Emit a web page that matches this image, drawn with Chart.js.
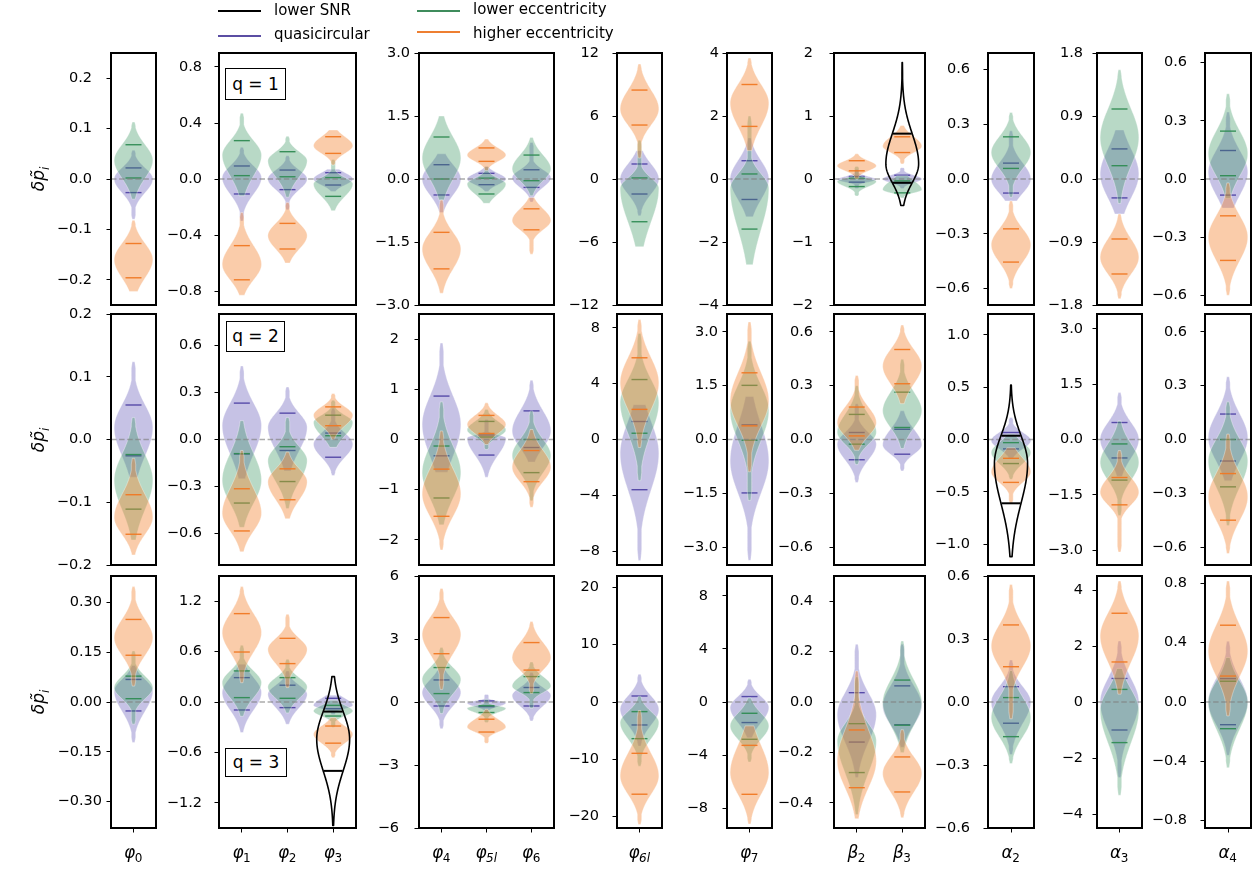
<!DOCTYPE html>
<html><head><meta charset="utf-8">
<script src="https://cdn.jsdelivr.net/npm/chart.js@4.4.1/dist/chart.umd.min.js"></script>
<style>
body{margin:0;background:#fff;width:1258px;height:871px;overflow:hidden;position:relative;font-family:"DejaVu Sans",sans-serif;color:#000;}
.cv{position:absolute;}
.leg{position:absolute;font-size:15px;line-height:18px;white-space:nowrap;}
.legline{position:absolute;height:2.5px;}
.qbox{position:absolute;border:1px solid #000;background:#fff;font-size:17px;text-align:center;box-sizing:border-box;}
.ylab{position:absolute;font-size:17px;font-style:italic;transform:translate(-50%,-50%) rotate(-90deg);white-space:nowrap;}
</style></head><body>
<script>
// ---------------- DATA ----------------
const panelLabels = [['φ₀'], ['φ₁','φ₂','φ₃'], ['φ₄','φ₅ₗ','φ₆'], ['φ₆ₗ'], ['φ₇'], ['β₂','β₃'], ['α₂'], ['α₃'], ['α₄']];
const seriesNames = ['lower SNR', 'quasicircular', 'lower eccentricity', 'higher eccentricity'];
const rowTitles = ['q = 1', 'q = 2', 'q = 3'];

// each violin: [lower tail end, lower quantile, peak, upper quantile, upper tail end]
// category order: φ0, φ1, φ2, φ3, φ4, φ5l, φ6, φ6l, φ7, β2, β3, α2, α3, α4
const quasi_q1 = [
 [-0.08,-0.027,0.0,0.022,0.057],[-0.3,-0.107,0.01,0.093,0.226],[-0.22,-0.076,0.0,0.064,0.166],[-0.09,-0.043,0.0,0.045,0.07],
 [-0.8,-0.38,0.0,0.34,0.6],[-0.3,-0.135,0.0,0.135,0.3],[-0.55,-0.2,0.03,0.22,0.87],
 [-3.5,-1.43,0.0,1.43,2.7],[-1.2,-0.65,0.0,0.58,1.3],[-0.15,-0.05,-0.01,0.04,0.15],[-0.15,-0.06,0.0,0.06,0.18],
 [-0.12,-0.077,0.0,0.087,0.264],[-0.5,-0.27,0.07,0.43,0.7],[-0.15,-0.083,0.035,0.147,0.345]];
const lowEcc_q1 = [
 [-0.04,0.002,0.037,0.068,0.113],[-0.12,0.024,0.17,0.274,0.47],[-0.13,0.016,0.13,0.195,0.305],[-0.226,-0.124,-0.036,0.01,0.14],
 [-0.5,0.0,0.5,1.0,1.5],[-0.58,-0.357,-0.12,0.02,0.3],[-0.4,-0.04,0.24,0.57,0.99],
 [-6.45,-4.07,-0.9,0.1,3.7],[-2.72,-1.59,-0.3,0.16,2.0],[-0.27,-0.12,-0.04,0.01,0.2],[-0.3,-0.22,-0.17,-0.03,0.05],
 [-0.1,0.058,0.145,0.231,0.364],[-0.35,0.19,0.59,1.0,1.56],[-0.1,0.017,0.13,0.247,0.44]];
const highEcc_q1 = [
 [-0.223,-0.196,-0.16,-0.128,-0.082],[-0.83,-0.72,-0.61,-0.476,-0.24],[-0.6,-0.5,-0.405,-0.317,-0.167],[0.1,0.183,0.238,0.302,0.35],
 [-2.72,-2.14,-1.67,-1.27,-0.5],[0.2,0.42,0.57,0.74,0.95],[-1.79,-1.21,-0.99,-0.71,-0.44],
 [2.0,5.14,6.67,8.47,10.95],[0.9,1.67,2.41,3.0,3.84],[0.0,0.13,0.21,0.29,0.4],[0.24,0.42,0.52,0.67,0.85],
 [-0.6,-0.455,-0.36,-0.273,-0.12],[-1.71,-1.357,-1.12,-0.857,-0.5],[-0.6,-0.42,-0.3,-0.19,-0.02]];
const lowSNR_q1 = [null,null,null,null,null,null,null,null,null,null,[-0.42,-0.06,0.24,0.72,1.85],null,null,null];

const quasi_q2 = [
 [-0.06,-0.026,0.019,0.055,0.124],[-0.25,-0.092,0.088,0.232,0.469],[-0.2,-0.07,0.077,0.168,0.335],[-0.23,-0.113,-0.03,0.041,0.2],
 [-0.65,-0.325,0.3,0.865,1.92],[-0.75,-0.31,0.03,0.09,0.4],[-0.45,-0.16,0.17,0.57,1.18],
 [-8.67,-3.6,-1.0,1.29,2.5],[-3.37,-1.49,-0.6,0.41,1.2],[-0.24,-0.113,-0.026,0.039,0.2],[-0.175,-0.082,-0.03,0.057,0.16],
 [-0.18,-0.09,-0.01,0.067,0.21],[-1.0,-0.5,0.0,0.46,1.27],[-0.23,-0.12,0.01,0.142,0.35]];
const lowEcc_q2 = [
 [-0.16,-0.111,-0.065,-0.024,0.035],[-0.56,-0.405,-0.26,-0.09,0.12],[-0.44,-0.268,-0.134,-0.046,0.14],[-0.05,0.024,0.109,0.155,0.25],
 [-1.7,-1.165,-0.66,-0.13,0.75],[-0.2,0.05,0.19,0.36,0.6],[-1.22,-0.66,-0.32,0.0,0.57],
 [-2.95,0.45,2.64,4.3,7.6],[-1.7,-0.02,0.8,1.51,2.74],[-0.14,-0.026,0.04,0.14,0.3],[-0.05,0.067,0.16,0.264,0.447],
 [-0.38,-0.23,-0.125,-0.03,0.05],[-2.06,-1.1,-0.62,-0.12,0.5],[-0.48,-0.264,-0.12,0.0,0.21]];
const highEcc_q2 = [
 [-0.184,-0.151,-0.124,-0.088,-0.03],[-0.716,-0.583,-0.47,-0.314,-0.07],[-0.505,-0.384,-0.27,-0.187,-0.08],[0.0,0.088,0.155,0.208,0.293],
 [-2.2,-1.53,-1.085,-0.59,0.17],[-0.1,0.12,0.3,0.48,0.73],[-1.35,-0.84,-0.55,-0.22,0.2],
 [-0.57,2.16,4.07,5.86,8.6],[-0.9,0.38,1.08,1.86,3.28],[-0.06,0.02,0.094,0.181,0.357],[0.2,0.311,0.41,0.502,0.638],
 [-0.61,-0.41,-0.31,-0.18,-0.08],[-3.05,-1.77,-1.43,-1.03,-0.3],[-0.636,-0.45,-0.32,-0.19,0.03]];
const lowSNR_q2 = [null,null,null,null,null,null,null,null,null,null,null,[-1.12,-0.61,-0.23,0.036,0.52],null,null];

const quasi_q3 = [
 [-0.122,-0.027,0.033,0.068,0.11],[-0.364,-0.095,0.112,0.29,0.45],[-0.265,-0.067,0.092,0.2,0.37],[-0.15,-0.08,-0.04,0.044,0.08],
 [-1.27,-0.19,0.45,1.05,1.6],[-0.5,-0.22,-0.05,0.05,0.36],[-0.9,-0.19,0.3,0.69,1.4],
 [-7.7,-4.01,-1.3,1.05,4.84],[-2.7,-1.55,-0.42,0.41,1.71],[-0.3,-0.159,-0.05,0.037,0.229],[-0.18,-0.09,-0.016,0.064,0.229],
 [-0.25,-0.101,0.0,0.073,0.2],[-2.7,-1.0,0.0,0.84,2.18],[-0.36,-0.153,0.0,0.158,0.41]];
const lowEcc_q3 = [
 [-0.067,0.01,0.043,0.078,0.154],[-0.17,0.052,0.23,0.37,0.675],[-0.13,0.044,0.179,0.29,0.508],[-0.3,-0.167,-0.107,-0.04,0.02],
 [-0.55,0.4,1.08,1.64,2.59],[-0.98,-0.5,-0.3,-0.18,0.13],[-0.3,0.45,0.76,1.21,1.9],
 [-11.2,-6.4,-3.6,-1.68,1.0],[-4.52,-2.81,-1.8,-0.85,0.3],[-0.446,-0.28,-0.155,-0.086,0.1],[-0.2,-0.092,-0.003,0.087,0.242],
 [-0.293,-0.165,-0.074,0.021,0.15],[-3.33,-1.45,-0.3,0.45,1.2],[-0.443,-0.18,0.0,0.14,0.3]];
const highEcc_q3 = [
 [0.048,0.141,0.194,0.249,0.348],[0.23,0.595,0.826,1.052,1.374],[0.171,0.457,0.627,0.758,1.044],[-0.663,-0.49,-0.385,-0.286,-0.186],
 [0.6,2.3,3.22,4.02,5.41],[-1.97,-1.43,-1.19,-0.82,-0.35],[0.41,1.52,2.11,2.83,3.83],
 [-21.4,-16.1,-12.9,-8.96,-1.5],[-9.2,-6.96,-5.33,-3.27,-1.8],[-0.463,-0.34,-0.234,-0.111,0.123],[-0.459,-0.357,-0.283,-0.218,-0.11],
 [-0.08,0.168,0.267,0.367,0.56],[0.28,1.43,2.36,3.17,4.32],[-0.094,0.175,0.344,0.518,0.816]];
const lowSNR_q3 = [null,null,null,[-1.47,-0.82,-0.444,-0.114,0.302],null,null,null,null,null,null,null,null,null,null];

// y-axis half ranges and tick labels per panel
const yLim_q1 = [0.25, 0.9, 3, 12, 4, 2, 0.69, 1.8, 0.65];
const yLim_q2 = [0.2, 0.8, 2.5, 9, 3.5, 0.7, 1.2, 3.4, 0.7];
const yLim_q3 = [0.38, 1.5, 6, 22, 9.5, 0.5, 0.6, 4.5, 0.85];
const yTicks_q1 = [['−0.2','−0.1','0.0','0.1','0.2'],['−0.8','−0.4','0.0','0.4','0.8'],['−3.0','−1.5','0.0','1.5','3.0'],['−12','−6','0','6','12'],['−4','−2','0','2','4'],['−2','−1','0','1','2'],['−0.6','−0.3','0.0','0.3','0.6'],['−1.8','−0.9','0.0','0.9','1.8'],['−0.6','−0.3','0.0','0.3','0.6']];
const yTicks_q2 = [['−0.2','−0.1','0.0','0.1','0.2'],['−0.6','−0.3','0.0','0.3','0.6'],['−2','−1','0','1','2'],['−8','−4','0','4','8'],['−3.0','−1.5','0.0','1.5','3.0'],['−0.6','−0.3','0.0','0.3','0.6'],['−1.0','−0.5','0.0','0.5','1.0'],['−3.0','−1.5','0.0','1.5','3.0'],['−0.6','−0.3','0.0','0.3','0.6']];
const yTicks_q3 = [['−0.30','−0.15','0.00','0.15','0.30'],['−1.2','−0.6','0.0','0.6','1.2'],['−6','−3','0','3','6'],['−20','−10','0','10','20'],['−8','−4','0','4','8'],['−0.4','−0.2','0.0','0.2','0.4'],['−0.6','−0.3','0.0','0.3','0.6'],['−4','−2','0','2','4'],['−0.8','−0.4','0.0','0.4','0.8']];

// ---------------- LAYOUT / STYLE ----------------
const COLS = [[111,156],[219,356],[419,554],[617,662],[727,772],[834,925],[988,1034],[1097,1142],[1205,1251]];
const ROWS = [[53,305],[314,565],[576,828]];
const LABEL_GAP = [[19,17,9,18,8,21,18,14,18],[19,17,20,17,9,21,18,14,18],[9,17,20,18,19,21,18,14,18]];
const QBOX = [[225,68,61,32],[226,321,59,31],[225,748,62,29]];
const STY = {
  'lower SNR': {fill:null, edge:'#000', edgeW:1.6, cap:'#000', capW:2, capHalf:9.5, wf:0.36, tail:0.3, leg:'#000'},
  'quasicircular': {fill:'rgba(104,94,186,0.38)', edge:'rgba(255,255,255,0.45)', edgeW:0.8, cap:'rgba(80,68,165,0.95)', capW:1.4, capHalf:8, wf:0.43, tail:2.2, leg:'#5b4ea3'},
  'lower eccentricity': {fill:'rgba(58,150,98,0.36)', edge:'rgba(255,255,255,0.45)', edgeW:0.8, cap:'rgba(48,140,84,0.95)', capW:1.4, capHalf:8, wf:0.43, tail:2.2, leg:'#3f8c5c'},
  'higher eccentricity': {fill:'rgba(244,134,52,0.42)', edge:'rgba(255,255,255,0.45)', edgeW:0.8, cap:'rgba(240,120,35,0.95)', capW:1.4, capHalf:8, wf:0.43, tail:2.2, leg:'#ee7f31'}
};
const FONT = '"DejaVu Sans", sans-serif';
const rowData = [
  {snr: lowSNR_q1, quasi: quasi_q1, low: lowEcc_q1, high: highEcc_q1, lim: yLim_q1, ticks: yTicks_q1},
  {snr: lowSNR_q2, quasi: quasi_q2, low: lowEcc_q2, high: highEcc_q2, lim: yLim_q2, ticks: yTicks_q2},
  {snr: lowSNR_q3, quasi: quasi_q3, low: lowEcc_q3, high: highEcc_q3, lim: yLim_q3, ticks: yTicks_q3}
];

function parseTick(t){ return parseFloat(t.replace('−','-')); }
const SUBMAP = {'₀':'0','₁':'1','₂':'2','₃':'3','₄':'4','₅':'5','₆':'6','₇':'7','₈':'8','₉':'9','ₗ':'l'};

function halfWidth(v, s, W, Tw){
  const [tLo,cLo,pk,cHi,tHi] = s;
  const sd = v >= pk ? (cHi - pk) : (pk - cLo);
  const z = (v - pk) / (sd || 1e-9);
  const body = W * Math.exp(-0.5*z*z);
  const span = v >= pk ? (tHi - pk) : (pk - tLo);
  const frac = span > 0 ? Math.abs(v - pk)/span : 0;
  const tail = frac > 0.9 ? Tw*(1 - (frac-0.9)/0.1*0.45) : Tw;
  return Math.max(body, tail);
}

function drawViolin(ctx, y, cx, s, st, catW){
  const W = st.wf * catW, N = 180, pts = [];
  for (let k=0;k<=N;k++){
    const v = s[0] + (s[4]-s[0])*k/N;
    pts.push([y.getPixelForValue(v), halfWidth(v, s, W, st.tail)]);
  }
  ctx.beginPath();
  pts.forEach(([py,hw],k)=> k ? ctx.lineTo(cx+hw,py) : ctx.moveTo(cx+hw,py));
  for (let k=N;k>=0;k--) ctx.lineTo(cx-pts[k][1], pts[k][0]);
  ctx.closePath();
  if (st.fill){ ctx.fillStyle = st.fill; ctx.fill(); }
  ctx.strokeStyle = st.edge; ctx.lineWidth = st.edgeW; ctx.lineJoin='round'; ctx.stroke();
  ctx.strokeStyle = st.cap; ctx.lineWidth = st.capW;
  [s[1], s[3]].forEach(v=>{
    const py = y.getPixelForValue(v);
    ctx.beginPath(); ctx.moveTo(cx-st.capHalf, py); ctx.lineTo(cx+st.capHalf, py); ctx.stroke();
  });
}

const violinPlugin = {
  id: 'violins',
  afterDatasetsDraw(chart){
    const {ctx, chartArea:a, scales:{x,y}} = chart;
    const catW = (a.right-a.left)/chart.data.labels.length;
    ctx.save();
    ctx.beginPath(); ctx.rect(a.left,a.top,a.right-a.left,a.bottom-a.top); ctx.clip();
    const order = ['quasicircular','lower eccentricity','higher eccentricity','lower SNR'];
    order.forEach(name=>{
      const ds = chart.data.datasets.find(d=>d.label===name);
      if (!ds) return;
      ds.stats.forEach((s,i)=>{ if (s) drawViolin(ctx, y, x.getPixelForValue(i), s, STY[name], catW); });
      if (name === 'higher eccentricity'){
        const py = y.getPixelForValue(0);
        ctx.save(); ctx.strokeStyle='rgba(128,128,128,0.65)'; ctx.lineWidth=1.6; ctx.setLineDash([5.5,2.6]);
        ctx.beginPath(); ctx.moveTo(a.left,py); ctx.lineTo(a.right,py); ctx.stroke(); ctx.restore();
      }
    });
    ctx.restore();
  },
  afterDraw(chart){
    const {ctx, chartArea:a, scales:{x}} = chart;
    ctx.save(); ctx.strokeStyle='#000'; ctx.lineWidth=2;
    ctx.strokeRect(a.left, a.top, a.right-a.left, a.bottom-a.top);
    // category labels with math-style subscripts (bottom row only)
    if (chart.options.scales.x.display){
      ctx.fillStyle = '#000'; ctx.textBaseline = 'alphabetic';
      chart.data.labels.forEach((lab,i)=>{
        const main = lab[0], sub = [...lab.slice(1)].map(ch=>SUBMAP[ch]||ch).join('');
        const cx = x.getPixelForValue(i), base = a.bottom + 30;
        ctx.font = 'italic 17px ' + FONT; const wm = ctx.measureText(main).width;
        const subFont = (sub.includes('l') ? 'italic ' : '') + '12px ' + FONT;
        ctx.font = subFont; const ws = ctx.measureText(sub).width;
        const x0 = cx - (wm + ws)/2;
        ctx.font = 'italic 17px ' + FONT; ctx.textAlign='left'; ctx.fillText(main, x0, base);
        ctx.font = subFont; ctx.fillText(sub, x0 + wm - 0.5, base + 3.5);
      });
    }
    ctx.restore();
  }
};

function zeroPad(s){ s.paddingTop = 0; s.paddingBottom = 0; s.paddingLeft = 0; s.paddingRight = 0; }

const YW = 80, PAD = 3, PADV = 14, XH = 48;
let offset = 0;
const offsets = panelLabels.map(l=>{ const o = offset; offset += l.length; return o; });

rowData.forEach((rd, r)=>{
  panelLabels.forEach((labels, c)=>{
    const [x0,x1] = COLS[c], [y0,y1] = ROWS[r];
    const w = (x1-x0)+YW+PAD, h = (y1-y0)+2*PADV+(r===2?XH:0);
    const div = document.createElement('div');
    div.className='cv';
    div.style.left=(x0-YW)+'px'; div.style.top=(y0-PADV)+'px';
    div.style.width=w+'px'; div.style.height=h+'px';
    const cv = document.createElement('canvas');
    cv.width=w; cv.height=h; cv.style.width=w+'px'; cv.style.height=h+'px';
    div.appendChild(cv); document.body.appendChild(div);
    const o = offsets[c], n = labels.length;
    const mk = (name, arr)=>({label:name, stats: arr.slice(o,o+n), data: arr.slice(o,o+n).map(s=>s?s[2]:null),
      showLine:false, pointRadius:0, pointHoverRadius:0});
    const datasets = [mk('quasicircular', rd.quasi), mk('lower eccentricity', rd.low), mk('higher eccentricity', rd.high)];
    if (rd.snr.slice(o,o+n).some(s=>s)) datasets.push(mk('lower SNR', rd.snr));
    const tickLabels = rd.ticks[c], tickVals = tickLabels.map(parseTick), lim = rd.lim[c];
    new Chart(cv, {
      type:'line',
      data:{labels, datasets},
      options:{
        responsive:false, animation:false, events:[], devicePixelRatio:1,
        layout:{padding:{top:PADV,right:PAD,bottom:PADV,left:0}},
        plugins:{legend:{display:false}, tooltip:{enabled:false}},
        scales:{
          x:{type:'category', offset:true, display: r===2,
             grid:{display:true, drawOnChartArea:false, drawTicks:true, tickLength:4.5, tickWidth:1, tickColor:'#000'},
             border:{display:false},
             ticks:{autoSkip:false, maxRotation:0, padding:8, color:'rgba(0,0,0,0)', font:{family:FONT, size:17, style:'italic'}},
             afterFit(s){ s.height = r===2 ? XH : 0; zeroPad(s); }},
          y:{type:'linear', min:-lim, max:lim,
             grid:{display:true, drawOnChartArea:false, drawTicks:true, tickLength:4.5, tickWidth:1, tickColor:'#000'},
             border:{display:false},
             afterBuildTicks(s){ s.ticks = tickVals.map(v=>({value:v})); },
             ticks:{padding: LABEL_GAP[r][c]-4.5, color:'#000', font:{family:FONT, size:14.5},
               callback(v){ const k = tickVals.findIndex(t=>Math.abs(t-v)<1e-9); return k>=0 ? tickLabels[k] : ''; }},
             afterFit(s){ s.width = YW; zeroPad(s); }}
        }
      },
      plugins:[violinPlugin]
    });
  });
});

// q boxes
QBOX.forEach((b,r)=>{
  const d = document.createElement('div'); d.className='qbox';
  d.style.left=b[0]+'px'; d.style.top=b[1]+'px'; d.style.width=b[2]+'px'; d.style.height=b[3]+'px';
  d.style.lineHeight=(b[3]-2)+'px'; d.textContent=rowTitles[r];
  document.body.appendChild(d);
});
// y labels
ROWS.forEach(([y0,y1])=>{
  const d = document.createElement('div'); d.className='ylab';
  d.style.left='40px'; d.style.top=((y0+y1)/2)+'px';
  d.innerHTML = 'δp̃<sub style="font-size:12px">i</sub>';
  document.body.appendChild(d);
});
// legend
const LEG = [[218,11,274,10],[218,36,274,34],[417,11,473,9],[417,32,473,33]];
seriesNames.forEach((name,i)=>{
  const [lx,ly,tx,ty] = LEG[i];
  const l = document.createElement('div'); l.className='legline';
  l.style.left=lx+'px'; l.style.top=(ly-1.25)+'px'; l.style.width='43px'; l.style.background=STY[name].leg;
  document.body.appendChild(l);
  const t = document.createElement('div'); t.className='leg';
  t.style.left=tx+'px'; t.style.top=(ty-9)+'px'; t.textContent=name;
  document.body.appendChild(t);
});
</script>
</body></html>
